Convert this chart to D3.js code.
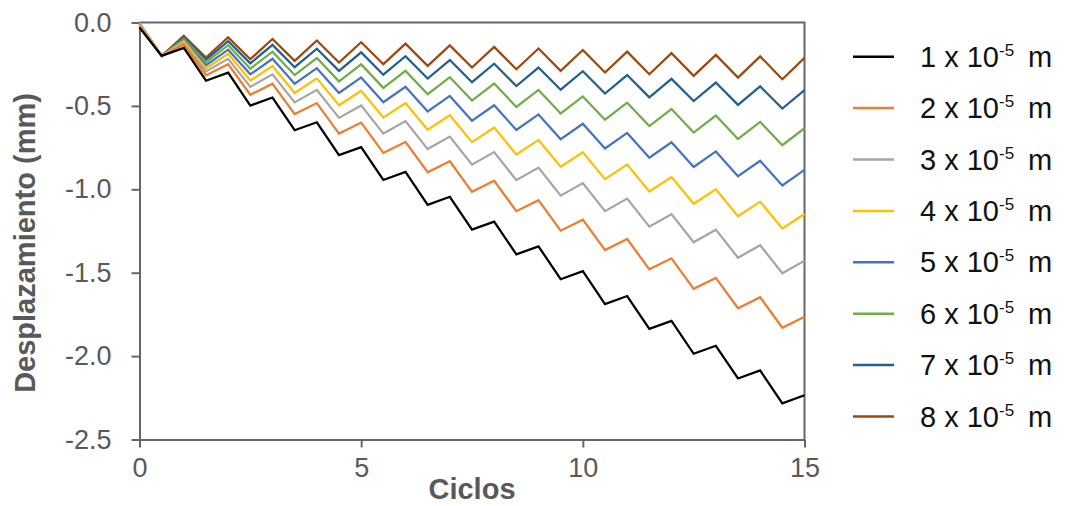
<!DOCTYPE html>
<html>
<head>
<meta charset="utf-8">
<script src="https://cdn.jsdelivr.net/npm/d3@7"></script>
<style>
  body { margin: 0; background: #fff; }
  svg { font-family: "Liberation Sans", Arial, sans-serif; }
  .axis path, .axis line { stroke: #666; stroke-width: 2; }
  .axis text { fill: #595959; font-size: 27px; }
</style>
</head>
<body>
<div id="chart-container"></div>
<script>
//data
var cycles = [0, 0.5, 1, 1.5, 2, 2.5, 3, 3.5, 4, 4.5, 5, 5.5, 6, 6.5, 7, 7.5,
    8, 8.5, 9, 9.5, 10, 10.5, 11, 11.5, 12, 12.5, 13, 13.5, 14, 14.5, 15];

var disp1 = [-0.03, -0.200, -0.152, -0.349, -0.301, -0.498, -0.450, -0.646, -0.598, -0.795, -0.747,
    -0.944, -0.896, -1.093, -1.045, -1.242, -1.194, -1.390, -1.342, -1.539, -1.491,
    -1.688, -1.640, -1.837, -1.789, -1.986, -1.938, -2.134, -2.086, -2.283, -2.235];
var disp2 = [-0.02, -0.200, -0.134, -0.316, -0.250, -0.433, -0.367, -0.549, -0.483, -0.666, -0.600,
    -0.782, -0.716, -0.898, -0.832, -1.015, -0.949, -1.131, -1.065, -1.248, -1.182,
    -1.364, -1.298, -1.480, -1.414, -1.597, -1.531, -1.713, -1.647, -1.830, -1.764];
var disp3 = [-0.01, -0.200, -0.125, -0.293, -0.218, -0.386, -0.311, -0.479, -0.404, -0.572, -0.497,
    -0.666, -0.591, -0.759, -0.684, -0.852, -0.777, -0.945, -0.870, -1.038, -0.963,
    -1.131, -1.056, -1.224, -1.149, -1.317, -1.242, -1.410, -1.335, -1.503, -1.428];
var disp4 = [-0.005, -0.200, -0.113, -0.274, -0.187, -0.348, -0.261, -0.422, -0.335, -0.496, -0.409,
    -0.570, -0.483, -0.643, -0.556, -0.717, -0.630, -0.791, -0.704, -0.865, -0.778,
    -0.939, -0.852, -1.013, -0.926, -1.087, -1.000, -1.161, -1.074, -1.235, -1.148];
var disp5 = [-0.005, -0.200, -0.107, -0.256, -0.163, -0.311, -0.218, -0.367, -0.274, -0.422, -0.329,
    -0.478, -0.385, -0.533, -0.440, -0.589, -0.496, -0.644, -0.551, -0.700, -0.607,
    -0.755, -0.662, -0.811, -0.718, -0.866, -0.773, -0.922, -0.829, -0.977, -0.884];
var disp6 = [-0.005, -0.200, -0.098, -0.238, -0.136, -0.277, -0.175, -0.315, -0.213, -0.353, -0.251,
    -0.392, -0.290, -0.430, -0.328, -0.468, -0.366, -0.506, -0.404, -0.545, -0.443,
    -0.583, -0.481, -0.621, -0.519, -0.660, -0.558, -0.698, -0.596, -0.736, -0.634];
var disp7 = [-0.01, -0.200, -0.089, -0.223, -0.112, -0.245, -0.134, -0.268, -0.157, -0.290, -0.179,
    -0.313, -0.202, -0.336, -0.225, -0.358, -0.247, -0.381, -0.270, -0.403, -0.292,
    -0.426, -0.315, -0.449, -0.338, -0.471, -0.360, -0.494, -0.383, -0.516, -0.405];
var disp8 = [-0.02, -0.200, -0.080, -0.210, -0.089, -0.220, -0.099, -0.230, -0.108, -0.240, -0.118,
    -0.250, -0.127, -0.260, -0.137, -0.270, -0.146, -0.280, -0.156, -0.290, -0.165,
    -0.300, -0.175, -0.310, -0.184, -0.320, -0.194, -0.330, -0.203, -0.340, -0.212];

var seriesValues = [disp1, disp2, disp3, disp4, disp5, disp6, disp7, disp8];
var seriesLabels = ['1', '2', '3', '4', '5', '6', '7', '8'];
var seriesColors = ['#000000', '#ED7D31', '#A5A5A5', '#FFC000', '#4472C4', '#70AD47', '#255E91', '#9E480E'];

var xTicks = [0, 5, 10, 15];
var yTicks = [0, -0.5, -1, -1.5, -2, -2.5];

//sizes
var outerW = 1065,
    outerH = 506,
    margin = { left: 139.5, right: 260.5, top: 22.5, bottom: 66.5 },
    w = outerW - margin.left - margin.right,
    h = outerH - margin.top - margin.bottom;

//scales
var xScale = d3.scaleLinear().domain([0, 15]).range([0, w]),
    yScale = d3.scaleLinear().domain([-2.5, 0]).range([h, 0]);

var svg = d3.select('#chart-container').append('svg')
    .attr('width', outerW)
    .attr('height', outerH);

var g = svg.append('g')
    .attr('transform', 'translate(' + margin.left + ',' + margin.top + ')');

// plot border (top & right)
g.append('path')
    .attr('d', 'M0,0H' + w + 'V' + h)
    .attr('fill', 'none')
    .attr('stroke', '#666')
    .attr('stroke-width', 2);

var xAxis = d3.axisBottom(xScale)
    .tickValues(xTicks)
    .tickSize(8)
    .tickSizeOuter(0)
    .tickPadding(10)
    .tickFormat(d3.format('d'));

g.append('g')
    .attr('class', 'axis x-axis')
    .attr('transform', 'translate(0,' + h + ')')
    .call(xAxis);

var yAxis = d3.axisLeft(yScale)
    .tickValues(yTicks)
    .tickSize(8)
    .tickSizeOuter(0)
    .tickPadding(20)
    .tickFormat(function(d) { return d === 0 ? '0.0' : d3.format('.1f')(d).replace('\u2212', '-'); });

g.append('g')
    .attr('class', 'axis y-axis')
    .call(yAxis);

// lines
var line = d3.line()
    .x(function(d, i) { return xScale(cycles[i]); })
    .y(function(d) { return yScale(d); });

seriesValues.slice().reverse().forEach(function(vals, j) {
    var k = seriesValues.length - 1 - j;
    g.append('path')
        .attr('d', line(vals))
        .attr('fill', 'none')
        .attr('stroke', seriesColors[k])
        .attr('stroke-width', 2.25)
        .attr('stroke-linejoin', 'miter');
});

// axis titles
svg.append('text')
    .attr('x', margin.left + w / 2)
    .attr('y', 499)
    .attr('text-anchor', 'middle')
    .attr('fill', '#595959')
    .attr('font-weight', 'bold')
    .attr('font-size', '29px')
    .text('Ciclos');

svg.append('text')
    .attr('transform', 'translate(35,243) rotate(-90)')
    .attr('text-anchor', 'middle')
    .attr('fill', '#595959')
    .attr('font-weight', 'bold')
    .attr('font-size', '29px')
    .text('Desplazamiento (mm)');

// legend
var legend = svg.append('g').attr('class', 'legend');
seriesLabels.forEach(function(lab, i) {
    var cy = 56.7 + i * 51.4;
    legend.append('line')
        .attr('x1', 853).attr('x2', 894)
        .attr('y1', cy).attr('y2', cy)
        .attr('stroke', seriesColors[i])
        .attr('stroke-width', 2.5);
    var t = legend.append('text')
        .attr('x', 920)
        .attr('y', cy + 10)
        .attr('fill', '#111')
        .attr('font-size', '29px');
    t.append('tspan').text(lab + ' x 10');
    t.append('tspan')
        .attr('dy', -11)
        .attr('font-size', '17px')
        .text('-5');
    legend.append('text')
        .attr('x', 1028)
        .attr('y', cy + 10)
        .attr('fill', '#111')
        .attr('font-size', '29px')
        .text('m');
});
</script>
</body>
</html>
